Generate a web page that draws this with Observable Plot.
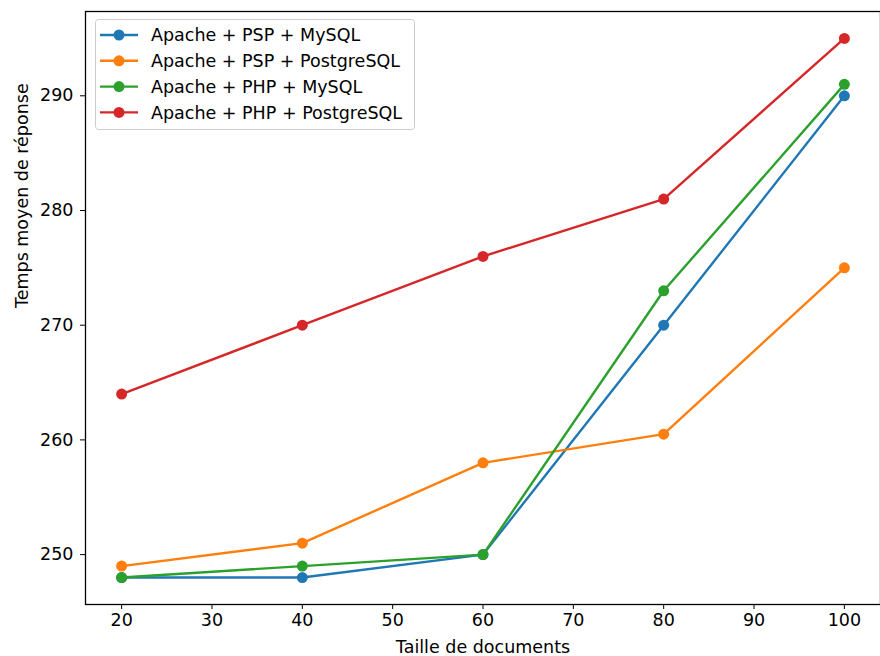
<!DOCTYPE html>
<html>
<head>
<meta charset="utf-8">
<script src="https://cdn.jsdelivr.net/npm/d3@7"></script>
<script src="https://cdn.jsdelivr.net/npm/@observablehq/plot@0.6"></script>
<style>
  html, body { margin: 0; padding: 0; background: white; }
  #wrap { position: relative; width: 880px; height: 656px; }
  #legend { position: absolute; left: 95px; top: 19px; }
</style>
</head>
<body>
<div id="wrap"></div>
<script>
const xValues = [20, 40, 60, 80, 100];
const seriesNames = [
  "Apache + PSP + MySQL",
  "Apache + PSP + PostgreSQL",
  "Apache + PHP + MySQL",
  "Apache + PHP + PostgreSQL"
];
const pspMysql = [248, 248, 250, 270, 290];
const pspPostgres = [249, 251, 258, 260.5, 275];
const phpMysql = [248, 249, 250, 273, 291];
const phpPostgres = [264, 270, 276, 281, 295];
const colors = ["#1f77b4", "#ff7f0e", "#2ca02c", "#d62728"];
const xTicks = [20, 30, 40, 50, 60, 70, 80, 90, 100];
const yTicks = [250, 260, 270, 280, 290];

const allSeries = [pspMysql, pspPostgres, phpMysql, phpPostgres];
const data = allSeries.flatMap((vals, i) =>
  vals.map((v, j) => ({ s: seriesNames[i], x: xValues[j], y: v }))
);

const font = "DejaVu Sans, sans-serif";
const fs = 17.5;

const chart = Plot.plot({
  width: 880,
  height: 656,
  marginLeft: 85,
  marginRight: 0,
  marginTop: 11,
  marginBottom: 52,
  style: { fontFamily: font, fontSize: fs + "px", background: "white", color: "#000" },
  x: { domain: [16, 104] },
  y: { domain: [245.65, 297.35] },
  color: { domain: seriesNames, range: colors },
  marks: [
    Plot.axisX({ ticks: xTicks, tickSize: 5, tickPadding: 4, label: null, fontSize: fs, stroke: "#000" }),
    Plot.axisY({ ticks: yTicks, tickSize: 5, tickPadding: 7, label: null, fontSize: fs, stroke: "#000" }),
    Plot.line(data, { x: "x", y: "y", z: "s", stroke: "s", strokeWidth: 2.4 }),
    Plot.dot(data, { x: "x", y: "y", fill: "s", r: 5.5 }),
    Plot.frame({ stroke: "#000", strokeWidth: 1.3 }),
    Plot.text(["Taille de documents"], { text: d => d, frameAnchor: "bottom", dy: 48, fontSize: fs }),
    Plot.text(["Temps moyen de réponse"], { text: d => d, frameAnchor: "left", dx: -63, rotate: -90, fontSize: fs })
  ]
});

const wrap = document.getElementById("wrap");
wrap.appendChild(chart);

// Legend overlay
const ns = "http://www.w3.org/2000/svg";
const leg = document.createElementNS(ns, "svg");
leg.setAttribute("id", "legend");
leg.setAttribute("width", 322);
leg.setAttribute("height", 113);
const box = document.createElementNS(ns, "rect");
box.setAttribute("x", 0.5); box.setAttribute("y", 0.5);
box.setAttribute("width", 319); box.setAttribute("height", 110);
box.setAttribute("rx", 3);
box.setAttribute("fill", "white"); box.setAttribute("fill-opacity", 0.8);
box.setAttribute("stroke", "#cccccc"); box.setAttribute("stroke-width", 1);
leg.appendChild(box);
seriesNames.forEach((name, i) => {
  const cy = 16 + i * 25.8;
  const ln = document.createElementNS(ns, "line");
  ln.setAttribute("x1", 5); ln.setAttribute("x2", 43);
  ln.setAttribute("y1", cy); ln.setAttribute("y2", cy);
  ln.setAttribute("stroke", colors[i]); ln.setAttribute("stroke-width", 2.4);
  leg.appendChild(ln);
  const c = document.createElementNS(ns, "circle");
  c.setAttribute("cx", 24); c.setAttribute("cy", cy); c.setAttribute("r", 5.5);
  c.setAttribute("fill", colors[i]);
  leg.appendChild(c);
  const t = document.createElementNS(ns, "text");
  t.setAttribute("x", 56); t.setAttribute("y", cy);
  t.setAttribute("dy", "0.36em");
  t.setAttribute("font-family", font);
  t.setAttribute("font-size", fs);
  t.setAttribute("fill", "#000");
  t.textContent = name;
  leg.appendChild(t);
});
wrap.appendChild(leg);
</script>
</body>
</html>
